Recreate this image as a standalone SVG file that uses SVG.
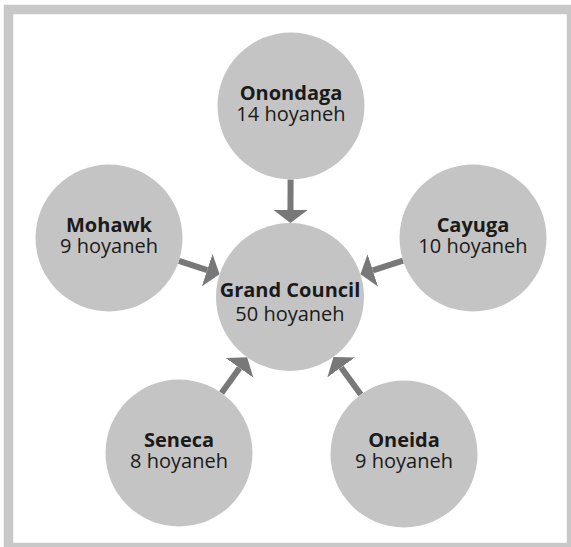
<svg xmlns="http://www.w3.org/2000/svg" width="571" height="547" viewBox="0 0 571 547">
<style>
.node{fill:#c4c4c4}
.t{font-family:"Open Sans","Noto Sans","DejaVu Sans",sans-serif;font-size:20px;fill:#1a1a1a;text-anchor:middle}
.b{font-weight:bold}
.arr{stroke:#787878;stroke-width:6;fill:none;marker-end:url(#ah)}
</style>
<defs>
<marker id="ah" markerUnits="userSpaceOnUse" markerWidth="13" markerHeight="34" viewBox="0 -17 13 34" refX="0" refY="0" orient="auto">
<path d="M0,-17 L13,0 L0,17 Z" fill="#787878"/>
</marker>
</defs>
<rect x="0" y="0" width="571" height="547" fill="#ffffff"/>
<rect x="8.5" y="9.5" width="563" height="538" fill="#ffffff" stroke="#c8c8c8" stroke-width="9.5"/>
<g id="connectors">
<line class="arr" x1="290.6" y1="179.5" x2="290.46" y2="210"/>
<line class="arr" x1="178.9" y1="260.8" x2="207.2" y2="270.1"/>
<line class="arr" x1="403.05" y1="260.55" x2="372.8" y2="270.31"/>
<line class="arr" x1="221.61" y1="393.11" x2="239.56" y2="367.89"/>
<line class="arr" x1="360.81" y1="394.52" x2="341.12" y2="367.4"/>
</g>
<g id="grand-council">
<circle class="node" cx="290" cy="297" r="74"/>
<text class="t"><tspan class="b" x="290" y="297">Grand Council</tspan><tspan x="290" y="321">50 hoyaneh</tspan></text>
</g>
<g id="onondaga">
<circle class="node" cx="291" cy="106" r="73.5"/>
<text class="t"><tspan class="b" x="291" y="100">Onondaga</tspan><tspan x="291" y="121">14 hoyaneh</tspan></text>
</g>
<g id="mohawk">
<circle class="node" cx="109" cy="238" r="73.5"/>
<text class="t"><tspan class="b" x="109" y="232">Mohawk</tspan><tspan x="109" y="253">9 hoyaneh</tspan></text>
</g>
<g id="cayuga">
<circle class="node" cx="473" cy="238" r="73.5"/>
<text class="t"><tspan class="b" x="473" y="232">Cayuga</tspan><tspan x="473" y="253">10 hoyaneh</tspan></text>
</g>
<g id="seneca">
<circle class="node" cx="179" cy="453" r="73.5"/>
<text class="t"><tspan class="b" x="179" y="447">Seneca</tspan><tspan x="179" y="468">8 hoyaneh</tspan></text>
</g>
<g id="oneida">
<circle class="node" cx="404" cy="454" r="73.5"/>
<text class="t"><tspan class="b" x="404" y="447">Oneida</tspan><tspan x="404" y="468">9 hoyaneh</tspan></text>
</g>
</svg>
